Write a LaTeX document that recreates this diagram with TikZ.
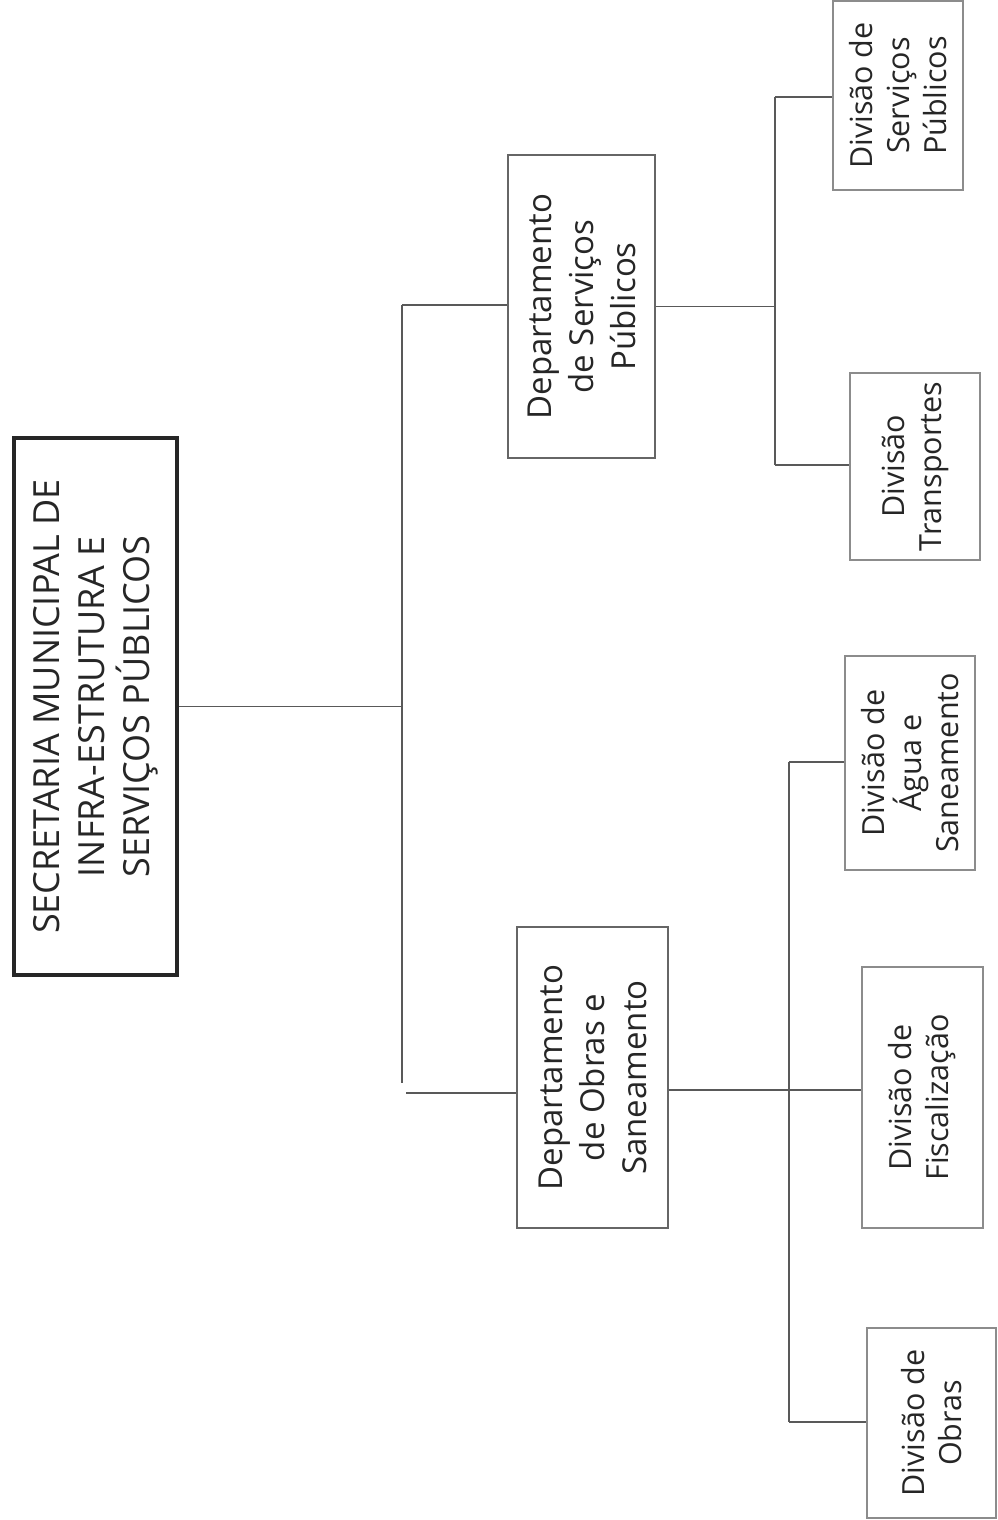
\documentclass[tikz,border=0pt]{standalone}
\usepackage{fontspec}
\setmainfont{Open Sans}
\begin{document}
\begin{tikzpicture}[x=1pt,y=-1pt,
  box/.style={draw=black!45,line width=1.2pt,rotate=90,align=center,inner sep=0pt,text=black!85},
  mainbox/.style={draw=black!85,line width=3.5pt,rotate=90,align=center,inner sep=0pt,text=black!85,
    font=\fontsize{36}{45}\selectfont},
  deptbox/.style={box,draw=black!60,font=\fontsize{33}{42}\selectfont},
  divbox/.style={box,font=\fontsize{30.5}{37}\selectfont},
  conn/.style={draw=black!65,line width=1.4pt}]
\useasboundingbox (0,0) rectangle (997,1520);
% boxes (rotated: minimum width = vertical extent, minimum height = horizontal extent)
\node[mainbox,minimum width=537,minimum height=163] (main) at (95.5,706.5)
  {SECRETARIA MUNICIPAL DE\\INFRA-ESTRUTURA E\\SERVIÇOS PÚBLICOS};
\node[deptbox,minimum width=303,minimum height=147] (dsp) at (581.5,306.5)
  {Departamento\\de Serviços\\Públicos};
\node[deptbox,minimum width=301,minimum height=151] (dos) at (592.5,1077.5)
  {Departamento\\de Obras e\\Saneamento};
\node[divbox,minimum width=189,minimum height=130] (dvsp) at (898,95.5)
  {Divisão de\\Serviços\\Públicos};
\node[divbox,minimum width=187,minimum height=130] (dtr) at (915,466.5)
  {Divisão\\Transportes};
\node[divbox,minimum width=214,minimum height=130] (dag) at (910,763)
  {Divisão de\\Água e\\Saneamento};
\node[divbox,minimum width=261,minimum height=121] (dfis) at (922.5,1097.5)
  {Divisão de\\Fiscalização};
\node[divbox,minimum width=190,minimum height=129] (dob) at (931.5,1423)
  {Divisão de\\Obras};
% level 1 bus
\coordinate (b1t) at (402,305);
\coordinate (b1b) at (406,1093);
\draw[conn] (main.south) -- (main.south -| b1t);
\draw[conn] (b1t) -- (402,1083);
\draw[conn] (b1t) -- (b1t -| dsp.north);
\draw[conn] (b1b) -- (b1b -| dos.north);
% top branch
\coordinate (b2t) at (775,97);
\coordinate (b2b) at (775,465);
\draw[conn] (dsp.south) -- (dsp.south -| b2t);
\draw[conn] (b2t) -- (b2b);
\draw[conn] (b2t) -- (b2t -| dvsp.north);
\draw[conn] (b2b) -- (b2b -| dtr.north);
% bottom branch
\coordinate (b3t) at (789,762);
\coordinate (b3b) at (789,1422);
\coordinate (b3m) at (789,1090);
\draw[conn] (b3m -| dos.south) -- (b3m -| dfis.north);
\draw[conn] (b3t) -- (b3b);
\draw[conn] (b3t) -- (b3t -| dag.north);
\draw[conn] (b3b) -- (b3b -| dob.north);
\end{tikzpicture}
\end{document}
